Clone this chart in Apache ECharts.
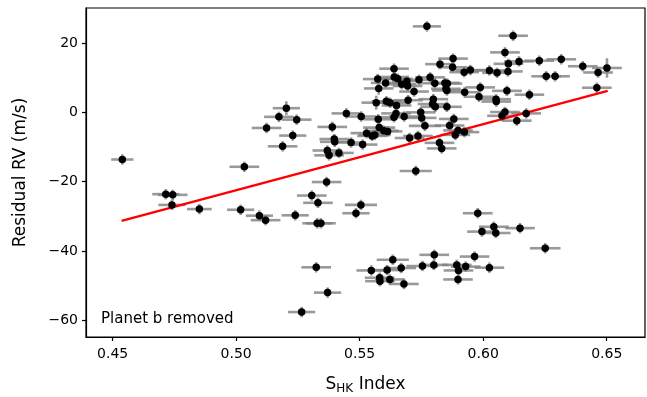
<!DOCTYPE html>
<html>
<head>
<meta charset="utf-8">
<script src="https://cdn.jsdelivr.net/npm/echarts@6/dist/echarts.min.js"></script>
<style>
html,body{margin:0;padding:0;background:#fff;}
#chart{width:647px;height:397px;}
</style>
</head>
<body>
<div id="chart"></div>
<script>
// S_HK index values
const sHK = [
0.4539,0.4715,0.4743,0.4740,0.4851,0.5018,0.5033,0.5094,0.5119,0.5123,
0.5173,0.5203,0.5245,0.5229,0.5188,0.5239,0.5265,0.5306,0.5331,0.5328,
0.5343,0.5324,0.5366,0.5370,0.5389,0.5397,0.5399,0.5369,0.5376,0.5416,
0.5446,0.5465,0.5485,0.5505,0.5506,0.5512,0.5528,0.5550,0.5561,0.5567,
0.5575,0.5579,0.5573,0.5577,0.5605,0.5608,0.5623,0.5649,0.5598,0.5613,
0.5639,0.5640,0.5654,0.5670,0.5639,0.5647,0.5680,0.5691,0.5694,0.5696,
0.5702,0.5720,0.5736,0.5740,0.5747,0.5751,0.5764,0.5772,0.5785,0.5798,
0.5795,0.5806,0.5804,0.5845,0.5855,0.5849,0.5853,0.5853,0.5825,0.5878,
0.5876,0.5823,0.5832,0.5881,0.5864,0.5898,0.5887,0.5924,0.5923,0.5948,
0.5925,0.5988,0.5983,0.6025,0.6056,0.6052,0.6053,0.6088,0.6102,0.6100,
0.6096,0.6088,0.6076,0.6121,0.6145,0.6227,0.6316,0.6403,0.6465,0.6501,
0.6460,0.6187,0.6174,0.6136,0.6255,0.6291,0.5727,0.5634,0.5547,0.5611,
0.5668,0.5581,0.5582,0.5622,0.5679,0.5754,0.5802,0.5800,0.5893,0.5900,
0.5898,0.5929,0.5965,0.6025,0.5978,0.6043,0.5995,0.6051,0.6149,0.6251
];
// Residual RV values (m/s)
const residualRV = [
-13.6,-23.6,-23.8,-26.7,-27.9,-28.1,-15.7,-29.8,-31.1,-4.5,
-1.3,1.2,-2.1,-6.7,-9.8,-29.7,-57.6,-24.0,-26.1,-32.0,
-32.0,-44.7,-20.1,-52.0,-4.2,-7.7,-8.5,-11.0,-12.4,-11.7,
-0.3,-8.7,-29.1,-26.7,-1.2,-9.3,-6.0,-6.8,-6.5,2.8,
-2.0,-4.4,9.6,6.9,8.5,3.2,2.8,2.0,-5.3,-5.5,
12.6,10.2,9.7,8.1,-1.4,-0.3,-1.2,9.0,7.6,3.5,
-7.4,6.0,-6.8,9.4,0.0,-1.6,-3.9,24.8,10.1,3.8,
2.4,1.6,8.4,8.5,8.3,6.8,6.3,1.6,13.9,15.5,
13.0,-8.8,-10.4,-1.9,-3.8,-5.2,-6.5,-5.7,11.6,12.2,
5.8,7.2,4.5,12.1,11.4,3.8,3.1,17.3,14.0,11.8,
6.2,0.1,-1.0,22.1,14.7,14.9,15.3,13.3,11.5,12.8,
7.1,5.1,-0.3,-2.4,10.4,10.4,-16.9,-42.5,-45.6,-45.5,
-44.9,-47.7,-48.7,-48.2,-49.5,-44.3,-41.1,-44.0,-44.0,-45.6,
-48.2,-44.5,-41.6,-44.8,-29.1,-33.0,-34.4,-34.8,-33.4,-39.2
];
// S_HK uncertainties
const sHKErr = [
0.0045,0.0055,0.0060,0.0055,0.0050,0.0055,0.0060,0.0055,0.0060,0.0060,
0.0060,0.0055,0.0060,0.0055,0.0060,0.0055,0.0055,0.0060,0.0060,0.0060,
0.0060,0.0060,0.0060,0.0055,0.0060,0.0060,0.0060,0.0060,0.0060,0.0060,
0.0060,0.0060,0.0055,0.0065,0.0060,0.0060,0.0065,0.0060,0.0065,0.0060,
0.0060,0.0065,0.0060,0.0060,0.0060,0.0060,0.0065,0.0060,0.0060,0.0060,
0.0060,0.0060,0.0060,0.0060,0.0060,0.0060,0.0060,0.0060,0.0060,0.0060,
0.0060,0.0060,0.0060,0.0060,0.0060,0.0060,0.0065,0.0057,0.0060,0.0060,
0.0060,0.0060,0.0060,0.0060,0.0060,0.0060,0.0060,0.0060,0.0060,0.0060,
0.0060,0.0060,0.0060,0.0060,0.0060,0.0060,0.0060,0.0060,0.0060,0.0060,
0.0060,0.0060,0.0060,0.0060,0.0060,0.0060,0.0060,0.0060,0.0060,0.0060,
0.0060,0.0060,0.0060,0.0060,0.0060,0.0060,0.0060,0.0060,0.0060,0.0060,
0.0060,0.0060,0.0060,0.0060,0.0060,0.0060,0.0065,0.0065,0.0060,0.0060,
0.0060,0.0060,0.0060,0.0060,0.0060,0.0065,0.0060,0.0060,0.0060,0.0060,
0.0060,0.0060,0.0060,0.0060,0.0060,0.0060,0.0060,0.0060,0.0060,0.0062
];
// RV uncertainties (m/s)
const rvErr = [
1.5,1.5,1.5,1.5,1.5,1.5,1.5,1.5,1.5,1.5,
1.5,2.0,1.5,1.5,1.5,1.5,1.5,1.5,1.5,1.5,
1.5,1.5,1.5,1.5,1.5,1.5,1.5,1.5,1.5,1.5,
1.5,1.5,1.5,1.5,1.5,1.5,1.5,1.5,1.5,2.0,
1.5,1.5,1.5,1.8,1.5,1.5,1.5,1.5,1.5,1.5,
1.5,1.5,1.5,1.5,1.5,1.5,1.5,1.5,1.5,1.5,
1.5,1.5,1.5,1.5,1.5,1.5,1.5,1.5,1.5,1.5,
1.5,1.5,1.5,1.5,1.5,1.5,1.5,1.5,1.5,1.5,
1.5,1.5,1.5,1.5,1.5,1.5,1.5,1.5,1.5,1.5,
1.5,1.5,1.5,1.5,1.5,1.5,1.5,1.5,1.5,1.5,
1.5,1.5,1.5,1.5,1.5,1.5,1.5,1.5,1.5,2.8,
1.5,1.5,1.5,1.5,1.5,1.5,1.5,1.5,1.5,1.5,
1.5,1.5,1.5,1.5,1.5,1.5,1.5,1.5,1.5,1.5,
1.5,1.5,1.5,1.5,1.5,1.5,1.5,1.5,1.5,1.5
];
// Linear fit endpoints
const fitX = [0.4536, 0.6504];
const fitY = [-31.3, 6.2];
// Tick labels
const xTicks = [0.45, 0.50, 0.55, 0.60, 0.65];
const yTicks = [-60, -40, -20, 0, 20];

const FONT = 'DejaVu Sans';
const points = sHK.map((x, i) => [x, residualRV[i]]);
const errData = sHK.map((x, i) => [x, residualRV[i], sHKErr[i], rvErr[i]]);
const fitData = fitX.map((x, i) => [x, fitY[i]]);

const chart = echarts.init(document.getElementById('chart'), null, {renderer: 'canvas'});
const errStyle = {stroke: 'rgba(128,128,128,0.8)', lineWidth: 2.6};

chart.setOption({
  animation: false,
  backgroundColor: '#fff',
  grid: {left: 86, right: 2, top: 8, bottom: 60, containLabel: false, outerBoundsMode: 'none',
    show: true, borderColor: '#000', borderWidth: 1.2, backgroundColor: 'transparent'},
  xAxis: {
    type: 'value', min: 0.4392, max: 0.6655,
    name: '{a|S}{s|HK}{a| Index}', nameLocation: 'middle', nameGap: 38,
    nameTextStyle: {rich: {
      a: {fontFamily: FONT, fontSize: 17, color: '#000'},
      s: {fontFamily: FONT, fontSize: 12, color: '#000', padding: [8, 0, 0, 0]}
    }},
    axisLine: {show: true, onZero: false, lineStyle: {color: '#000', width: 1.2}},
    splitLine: {show: false},
    axisTick: {show: true, inside: false, length: 4, customValues: xTicks, lineStyle: {color: '#000', width: 1.2}},
    axisLabel: {customValues: xTicks, fontFamily: FONT, fontSize: 14, color: '#000', margin: 10,
      formatter: v => v.toFixed(2)}
  },
  yAxis: {
    type: 'value', min: -64.8, max: 30.1,
    name: 'Residual RV (m/s)', nameLocation: 'middle', nameGap: 57,
    nameTextStyle: {fontFamily: FONT, fontSize: 17, color: '#000'},
    axisLine: {show: true, onZero: false, lineStyle: {color: '#000', width: 1.2}},
    splitLine: {show: false},
    axisTick: {show: true, inside: false, length: 4, customValues: yTicks, lineStyle: {color: '#000', width: 1.2}},
    axisLabel: {customValues: yTicks, fontFamily: FONT, fontSize: 14, color: '#000', margin: 8,
      formatter: v => String(v).replace('-', '\u2212')}
  },
  graphic: [{
    type: 'text', left: 101, top: 312, z: 100,
    style: {text: 'Planet b removed', fontFamily: FONT, fontSize: 15, fill: '#000'}
  }],
  series: [
    {
      type: 'custom', data: errData, encode: {x: 0, y: 1}, z: 1,
      renderItem: function (params, api) {
        const x = api.value(0), y = api.value(1), ex = api.value(2), ey = api.value(3);
        const a = api.coord([x - ex, y]), b = api.coord([x + ex, y]);
        const c = api.coord([x, y - ey]), d = api.coord([x, y + ey]);
        return {type: 'group', children: [
          {type: 'line', shape: {x1: a[0], y1: a[1], x2: b[0], y2: b[1]}, style: errStyle},
          {type: 'line', shape: {x1: c[0], y1: c[1], x2: d[0], y2: d[1]}, style: errStyle}
        ]};
      }
    },
    {
      type: 'line', data: fitData, z: 2, symbol: 'none',
      lineStyle: {color: '#ff0000', width: 2.5}
    },
    {
      type: 'scatter', data: points, z: 3, symbol: 'circle', symbolSize: 7.5,
      itemStyle: {color: '#000', opacity: 1}
    }
  ]
});
</script>
</body>
</html>
